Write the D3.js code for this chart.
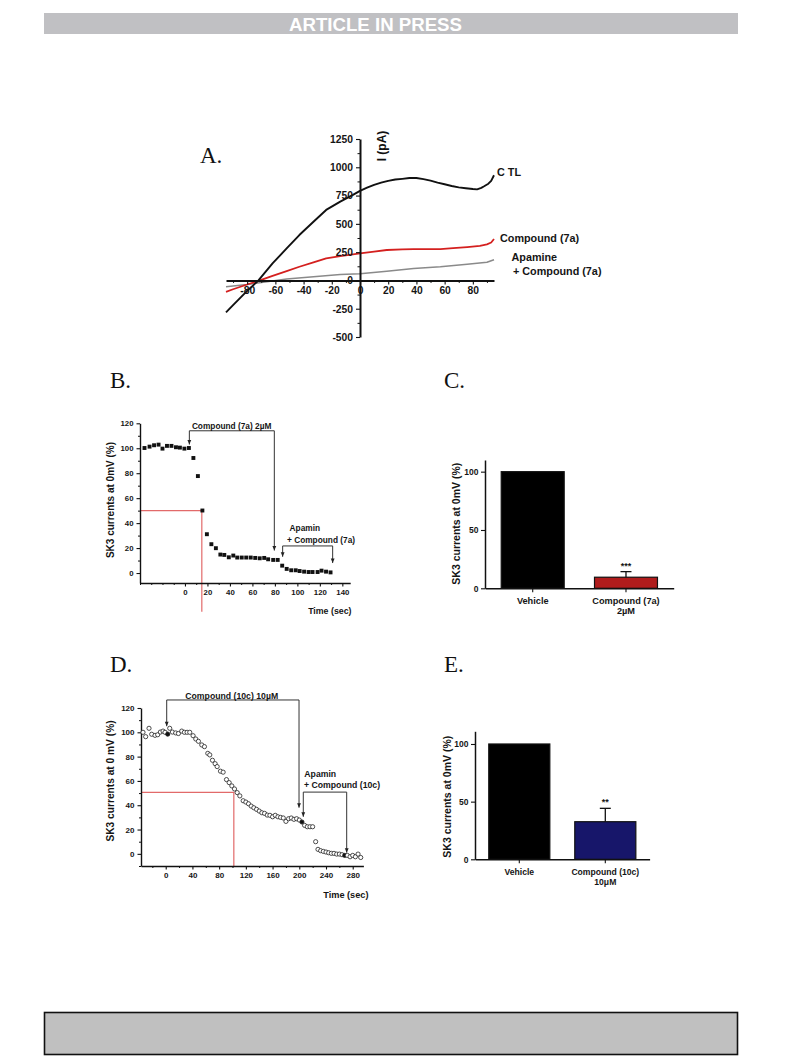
<!DOCTYPE html>
<html><head><meta charset="utf-8">
<script src="https://cdn.jsdelivr.net/npm/d3@7"></script>
<style>
body{margin:0;background:#fff}
svg text{font-family:"Liberation Sans",Arial,Helvetica,sans-serif}
</style></head><body>
<svg id="fig" width="793" height="1057"></svg>
<script>
// ---------- Panel A : I-V curves ----------
const aCtlV = [-95,-90,-80,-72,-62,-52,-43,-33,-24,-14,-5,0,5,10,15,20,25,30,35,40,45,50,55,60,65,70,75,80,83,86,88,91,93,95];
const aCtlI = [-283,-219,-92,0,150,283,401,519,623,697,756,792,820,845,865,880,892,898,905,905,895,882,865,850,835,822,815,808,805,818,832,855,880,930];
const aRedV = [-95,-90,-80,-71,-62,-52,-43,-33,-24,-14,-5,0,10,19,30,38,48,57,66,76,85,90,93,95];
const aRedI = [-101,-78,-36,0,41,82,121,160,195,214,230,239,255,269,274,277,277,277,285,295,305,319,335,366];
const aApaV = [-95,-80,-66,-52,-33,-14,0,19,38,57,76,90,95];
const aApaI = [-56,-36,-12,12,32,53,59,82,106,121,142,160,183];
const aXTicks = [-80,-60,-40,-20,0,20,40,60,80];
const aXMinor = [-90,-70,-50,-30,-10,10,30,50,70,90];
const aYTicks = [-500,-250,0,250,500,750,1000,1250];
const aYMinor = [-375,-125,125,375,625,875,1125];

// ---------- Panel B : time course compound (7a) ----------
const bTime = [-36,-31.5,-27.5,-23.5,-20,-16,-12,-8,-4.5,-0.5,3.5,7.5,11.5,15.5,19.5,23.5,27.5,31.5,35,39,43,46.5,50.5,54.5,58.5,62.5,66.5,70.5,74,78.5,82.5,86.5,90.5,94.5,98.5,102,106,110,113.5,118,121.5,125.5,129.5];
const bValue = [100.2,101.3,102.4,102.9,99.7,101.9,101.9,100.8,100.5,99.7,100.2,92.2,77.7,50.1,31.1,23.1,19.9,14.8,14.5,12.6,14,12.4,12.4,12.4,12.4,12.1,11.8,12.1,11,10.5,10.5,5.9,3.3,2.2,2.2,1.6,1.1,0.8,0.8,0.8,1.9,1.1,0.5];
const bXTicks = [0,20,40,60,80,100,120,140];
const bXMinor = [-40,-30,-20,-10,10,30,50,70,90,110,130];
const bYTicks = [0,20,40,60,80,100,120];
const bYMinor = [10,30,50,70,90,110];

// ---------- Panel C : bars compound (7a) ----------
const cGroups = ["Vehicle","Compound (7a)"];
const cSub = ["","2\u00B5M"];
const cMean = [100,9.5];
const cErr = [0,4.8];
const cStars = ["","***"];
const cColors = ["#000000","#b01c1c"];
const cYTicks = [0,50,100];

// ---------- Panel D : time course compound (10c) ----------
const dTime = [-34,-30,-25,-21,-16,-12,-8,-4,-1,3,6,10,15,19,24,28,32,36,41,45,49,54,58,63,66,70,74,77,82,86,91,95,99,103,107,111,116,120,124,128,132,136,140,144,148,152,156,160,164,168,172,176,180,184,188,192,196,200,204,208,212,216,220,224.5,228,232,236,240,244,248,252,256,260,264,268,272,276,280,284,288,292];
const dValue = [100,96.4,103.3,98.4,97.5,98,100.2,101,100,98.5,103.3,100.2,99.5,99,101,100,100,100,97.2,94.5,92.6,89.6,88.2,82.7,81.4,77,74.2,71.8,68,67.2,61.1,58.6,55.9,53.4,50.4,47.7,43.7,42.6,41.2,39.3,37.9,36.6,35.2,33.8,33.3,31.9,31.7,30.5,31.7,30.5,30,29.5,26.7,28.9,29.5,28.4,28.9,27.8,26.2,23.4,22.3,22.3,22.3,10,3.7,2.6,2,1.5,0.9,0.4,0.4,-0.2,-0.2,-0.7,-1.3,-1.3,-2.4,-1.3,-2.4,-0.2,-3];
const dFilled = [3,204,268];
const dXTicks = [0,40,80,120,160,200,240,280];
const dXMinor = [-20,20,60,100,140,180,220,260];
const dYTicks = [0,20,40,60,80,100,120];
const dYMinor = [-10,10,30,50,70,90,110];

// ---------- Panel E : bars compound (10c) ----------
const eGroups = ["Vehicle","Compound (10c)"];
const eSub = ["","10\u03BCM"];
const eMean = [100,32.6];
const eErr = [0,11.6];
const eStars = ["","**"];
const eColors = ["#000000","#17166a"];
const eYTicks = [0,50,100];

const svg = d3.select("#fig");
const FONT = '"Liberation Sans",Arial,Helvetica,sans-serif';

// header / footer
svg.append("rect").attr("x",44).attr("y",13).attr("width",694).attr("height",21).attr("fill","#c0c0c3");
svg.append("text").attr("x",289).attr("y",30.5).attr("textLength",173).attr("lengthAdjust","spacingAndGlyphs")
  .attr("font-size",19).attr("font-weight","bold").attr("fill","#fff").text("ARTICLE IN PRESS");
svg.append("rect").attr("x",44.5).attr("y",1012.5).attr("width",693).attr("height",42)
  .attr("fill","#c0c0c0").attr("stroke","#111").attr("stroke-width",1.6);

// panel letters
const letters = [["A.",200,163],["B.",110,388],["C.",444,388],["D.",110,672],["E.",444,672]];
svg.selectAll("text.letter").data(letters).join("text").attr("class","letter")
  .attr("x",d=>d[1]).attr("y",d=>d[2]).attr("font-size",23)
  .style("font-family",'"Liberation Serif","Times New Roman",serif').attr("fill","#111").text(d=>d[0]);

function styleAxis(g, fs, sw){
  g.attr("font-family",FONT).attr("font-size",fs).attr("font-weight","bold");
  g.selectAll("text").attr("fill","#151515");
  g.select(".domain").attr("stroke-width",sw).attr("stroke","#111");
  g.selectAll(".tick line").attr("stroke","#111").attr("stroke-width",1.1);
  return g;
}
function minorAxis(axisFn, scale, vals, size, transform){
  const g = svg.append("g").attr("transform",transform)
    .call(axisFn(scale).tickValues(vals).tickSize(size).tickSizeOuter(0).tickFormat(""));
  g.select(".domain").remove();
  g.selectAll(".tick line").attr("stroke","#111").attr("stroke-width",1);
}
function arrowDown(x,y){
  svg.append("path").attr("d",`M${x-1.9},${y-4.5}L${x+1.9},${y-4.5}L${x},${y}Z`).attr("fill","#222");
}
function bracket(pts){
  svg.append("path").attr("d",d3.line()(pts)).attr("fill","none").attr("stroke","#333").attr("stroke-width",1);
  arrowDown(pts[0][0],pts[0][1]);
  arrowDown(pts[pts.length-1][0],pts[pts.length-1][1]);
}
const fmt = d => String(d);

// ================= Panel A =================
{
  const x = d3.scaleLinear([-95,95],[226,494]);
  const y = d3.scaleLinear([-500,1250],[337,139]);
  const line = d3.line().x(d=>x(d[0])).y(d=>y(d[1]));
  const series = [
    {v:aApaV,i:aApaI,c:"#8a8a8a",w:1.5},
    {v:aRedV,i:aRedI,c:"#d4201f",w:1.8},
    {v:aCtlV,i:aCtlI,c:"#111",w:1.9}
  ];
  series.forEach(s=>{
    svg.append("path").datum(d3.zip(s.v,s.i)).attr("d",line)
      .attr("fill","none").attr("stroke",s.c).attr("stroke-width",s.w).attr("stroke-linejoin","round");
  });
  minorAxis(d3.axisBottom,x,aXMinor,2.5,`translate(0,${y(0)})`);
  minorAxis(d3.axisLeft,y,aYMinor,2.5,`translate(${x(0)},0)`);
  const gx = svg.append("g").attr("transform",`translate(0,${y(0)})`)
    .call(d3.axisBottom(x).tickValues(aXTicks).tickSize(4).tickPadding(2).tickSizeOuter(0).tickFormat(fmt));
  styleAxis(gx,10.3,2);
  const gy = svg.append("g").attr("transform",`translate(${x(0)},0)`)
    .call(d3.axisLeft(y).tickValues(aYTicks).tickSize(4).tickPadding(3).tickSizeOuter(0).tickFormat(fmt));
  styleAxis(gy,10.3,2);
  svg.append("text").attr("transform","translate(386,146) rotate(-90)").attr("text-anchor","middle")
    .attr("font-size",12).attr("font-weight","bold").attr("fill","#111").text("I (pA)");
  const lab = [["C TL",497,175.5],["Compound (7a)",500,241.5],["Apamine",511.5,261],["+ Compound (7a)",513,274.5]];
  lab.forEach(l=>svg.append("text").attr("x",l[1]).attr("y",l[2]).attr("font-size",10.8)
    .attr("font-weight","bold").attr("fill","#151515").text(l[0]));
}

// ================= Panel B =================
{
  const x = d3.scaleLinear([-40,147],[140,350.2]);
  const y = d3.scaleLinear([-8,120],[583,423.3]);
  svg.append("path").attr("d",d3.line()([[x(-40),y(50)],[x(15),y(50)],[x(15),y(-31)]]))
    .attr("fill","none").attr("stroke","#e26a6a").attr("stroke-width",1.2);
  minorAxis(d3.axisBottom,x,bXMinor,2,`translate(0,${y(-8)})`);
  minorAxis(d3.axisLeft,y,bYMinor,2,`translate(${x(-40)},0)`);
  const gx = svg.append("g").attr("transform",`translate(0,${y(-8)})`)
    .call(d3.axisBottom(x).tickValues(bXTicks).tickSize(3.5).tickPadding(2.5).tickSizeOuter(0).tickFormat(fmt));
  styleAxis(gx,7.8,1.4);
  const gy = svg.append("g").attr("transform",`translate(${x(-40)},0)`)
    .call(d3.axisLeft(y).tickValues(bYTicks).tickSize(3.5).tickPadding(3).tickSizeOuter(0).tickFormat(fmt));
  styleAxis(gy,7.8,1.4);
  const s = 3.9;
  svg.append("g").selectAll("rect").data(d3.zip(bTime,bValue)).join("rect")
    .attr("x",d=>x(d[0])-s/2).attr("y",d=>y(d[1])-s/2).attr("width",s).attr("height",s).attr("fill","#111");
  bracket([[x(3.9),y(103)],[x(3.9),y(114)],[x(79.5),y(114)],[x(79.5),y(18)]]);
  bracket([[x(86.9),y(13)],[x(86.9),y(21.7)],[x(131.4),y(21.7)],[x(131.4),y(8)]]);
  svg.append("text").attr("x",x(41.5)).attr("y",429).attr("text-anchor","middle").attr("font-size",8.3)
    .attr("font-weight","bold").attr("fill","#151515").text("Compound (7a) 2\u00B5M");
  svg.append("text").attr("x",x(93.1)).attr("y",531).attr("font-size",8.3)
    .attr("font-weight","bold").attr("fill","#151515").text("Apamin");
  svg.append("text").attr("x",x(90.8)).attr("y",542.5).attr("font-size",8.3)
    .attr("font-weight","bold").attr("fill","#151515").text("+ Compound (7a)");
  svg.append("text").attr("x",351.5).attr("y",614).attr("text-anchor","end").attr("font-size",8.8)
    .attr("font-weight","bold").attr("fill","#151515").text("Time (sec)");
  svg.append("text").attr("transform","translate(113.8,500) rotate(-90)").attr("text-anchor","middle")
    .attr("font-size",10).attr("font-weight","bold").attr("fill","#151515").text("SK3 currents at 0mV (%)");
}

// ================= Bar panels =================
function barPanel(o){
  const y = d3.scaleLinear(o.yDomain,o.yRange);
  const x = d3.scaleBand(o.groups,o.xRange).paddingInner(o.pi).paddingOuter(o.po);
  const cx0 = i => x(o.groups[i])+x.bandwidth()/2;
  const g = svg.append("g");
  g.selectAll("rect").data(o.groups).join("rect")
    .attr("x",d=>x(d)).attr("width",x.bandwidth())
    .attr("y",(d,i)=>y(o.mean[i])).attr("height",(d,i)=>y(0)-y(o.mean[i]))
    .attr("fill",(d,i)=>o.colors[i]).attr("stroke","#111").attr("stroke-width",1.2);
  o.groups.forEach((d,i)=>{
    if(o.err[i]>0){
      const cx = cx0(i);
      g.append("path").attr("d",d3.line()([[cx,y(o.mean[i])],[cx,y(o.mean[i]+o.err[i])]]))
        .attr("stroke","#111").attr("stroke-width",1.3);
      g.append("path").attr("d",d3.line()([[cx-5.5,y(o.mean[i]+o.err[i])],[cx+5.5,y(o.mean[i]+o.err[i])]]))
        .attr("stroke","#111").attr("stroke-width",1.3);
    }
    if(o.stars[i]) g.append("text").attr("x",cx0(i)).attr("y",y(o.mean[i]+o.err[i])-3)
      .attr("text-anchor","middle").attr("font-size",9).attr("font-weight","bold").attr("fill","#151515").text(o.stars[i]);
  });
  const gx = svg.append("g").attr("transform",`translate(0,${y(0)})`)
    .call(d3.axisBottom(x).tickSize(4).tickSizeOuter(0).tickFormat(""));
  styleAxis(gx,8,1.5);
  const gy = svg.append("g").attr("transform",`translate(${o.xRange[0]},0)`)
    .call(d3.axisLeft(y).tickValues(o.yTicks).tickSize(4).tickPadding(2.5).tickSizeOuter(0).tickFormat(fmt));
  styleAxis(gy,8.5,1.5);
  o.groups.forEach((d,i)=>{
    svg.append("text").attr("x",cx0(i)).attr("y",o.labY).attr("text-anchor","middle")
      .attr("font-size",o.labFs).attr("font-weight","bold").attr("fill","#151515").text(d);
    if(o.sub[i]) svg.append("text").attr("x",cx0(i)).attr("y",o.labY+o.lineH).attr("text-anchor","middle")
      .attr("font-size",o.labFs).attr("font-weight","bold").attr("fill","#151515").text(o.sub[i]);
  });
  svg.append("text").attr("transform",`translate(${o.ylx},${o.yly}) rotate(-90)`).attr("text-anchor","middle")
    .attr("font-size",10.5).attr("font-weight","bold").attr("fill","#151515").text(o.ylabel);
}
barPanel({groups:cGroups,sub:cSub,mean:cMean,err:cErr,stars:cStars,colors:cColors,yTicks:cYTicks,
  yDomain:[0,110],yRange:[588.3,460],xRange:[485,673.7],pi:0.325,po:0.174,
  labY:603.5,lineH:10.8,labFs:9.2,ylx:459.5,yly:523.7,ylabel:"SK3 currents at 0mV (%)"});
barPanel({groups:eGroups,sub:eSub,mean:eMean,err:eErr,stars:eStars,colors:eColors,yTicks:eYTicks,
  yDomain:[0,111],yRange:[859.3,731.3],xRange:[475,649.6],pi:0.29,po:0.16,
  labY:874.5,lineH:10,labFs:8.6,ylx:450.5,yly:796.7,ylabel:"SK3 currents at 0mV (%)"});

// ================= Panel D =================
{
  const x = d3.scaleLinear([-37,296],[141,363.4]);
  const y = d3.scaleLinear([-10,120],[866,708]);
  svg.append("path").attr("d",d3.line()([[x(-37),y(50.5)],[x(102),y(50.5)],[x(102),y(-10)]]))
    .attr("fill","none").attr("stroke","#e26a6a").attr("stroke-width",1.2);
  minorAxis(d3.axisBottom,x,dXMinor,2,`translate(0,${y(-10)})`);
  minorAxis(d3.axisLeft,y,dYMinor,2,`translate(${x(-37)},0)`);
  const gx = svg.append("g").attr("transform",`translate(0,${y(-10)})`)
    .call(d3.axisBottom(x).tickValues(dXTicks).tickSize(3.5).tickPadding(3).tickSizeOuter(0).tickFormat(fmt));
  styleAxis(gx,8,1.4);
  const gy = svg.append("g").attr("transform",`translate(${x(-37)},0)`)
    .call(d3.axisLeft(y).tickValues(dYTicks).tickSize(3.5).tickPadding(3).tickSizeOuter(0).tickFormat(fmt));
  styleAxis(gy,8,1.4);
  svg.append("g").selectAll("circle").data(d3.zip(dTime,dValue)).join("circle")
    .attr("cx",d=>x(d[0])).attr("cy",d=>y(d[1])).attr("r",2.1)
    .attr("fill",d=>dFilled.includes(d[0])?"#111":"#fff").attr("stroke","#222").attr("stroke-width",0.8);
  bracket([[x(1.5),y(105)],[x(1.5),y(126.6)],[x(199.6),y(126.6)],[x(199.6),y(38)]]);
  bracket([[x(206),y(30.5)],[x(206),y(50.8)],[x(271),y(50.8)],[x(271),y(1)]]);
  svg.append("text").attr("x",x(98.8)).attr("y",698.5).attr("text-anchor","middle").attr("font-size",8.7)
    .attr("font-weight","bold").attr("fill","#151515").text("Compound (10c) 10\u00B5M");
  svg.append("text").attr("x",304.3).attr("y",776.5).attr("font-size",8.7)
    .attr("font-weight","bold").attr("fill","#151515").text("Apamin");
  svg.append("text").attr("x",304).attr("y",787.5).attr("font-size",8.7)
    .attr("font-weight","bold").attr("fill","#151515").text("+ Compound (10c)");
  svg.append("text").attr("x",368.5).attr("y",898).attr("text-anchor","end").attr("font-size",9.2)
    .attr("font-weight","bold").attr("fill","#151515").text("Time (sec)");
  svg.append("text").attr("transform","translate(114,781) rotate(-90)").attr("text-anchor","middle")
    .attr("font-size",10.2).attr("font-weight","bold").attr("fill","#151515").text("SK3 currents at 0 mV (%)");
}
</script>
</body></html>
